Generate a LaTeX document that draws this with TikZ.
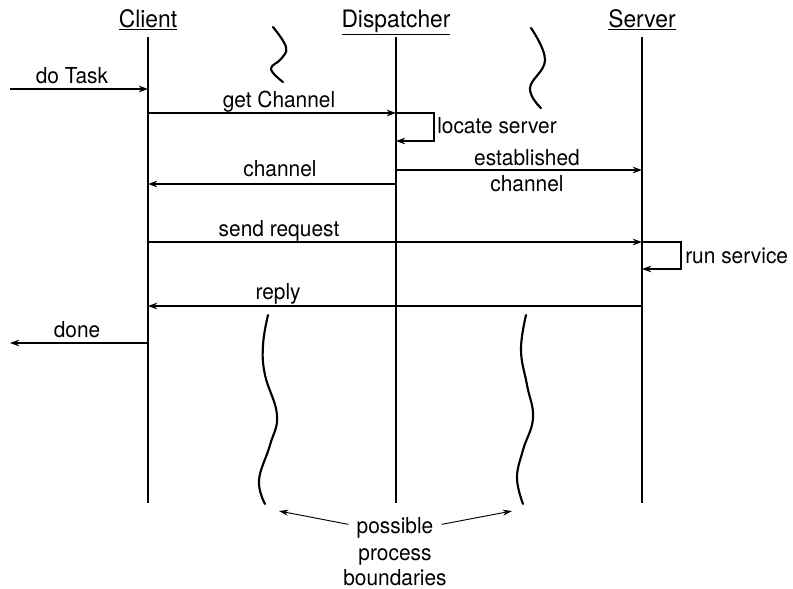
\documentclass[tikz,border=0pt]{standalone}
\usepackage{fontspec}
\setmainfont[FakeStretch=0.95]{TeX Gyre Heros}
\usetikzlibrary{arrows.meta}
\begin{document}
\begin{tikzpicture}[x=0.75pt,y=-0.75pt,
  every node/.style={inner sep=0pt,font=\fontsize{16.5pt}{19pt}\selectfont},
  head/.style={anchor=base,font=\fontsize{18pt}{21pt}\selectfont},
  lifeline/.style={line width=0.9pt},
  msg/.style={line width=0.9pt,-{Stealth[length=7pt,width=5pt]}},
  squiggle/.style={line width=1.6pt,line cap=round},
  pointer/.style={line width=0.7pt,-{Stealth[length=7pt,width=4.5pt]}},
  lbl/.style={anchor=base}]
\useasboundingbox (0,0) rectangle (793,589);

% participants
\node[head] (client) at (148,27) {\underline{Client}};
\node[head] (disp)   at (396,27) {\underline{Dispatcher}};
\node[head] (server) at (642,27) {\underline{Server}};

% lifelines
\coordinate (ct) at (148,37);  \coordinate (cb) at (148,503);
\coordinate (dt) at (396,37);  \coordinate (db) at (396,503);
\coordinate (st) at (642,37);  \coordinate (sb) at (642,503);
\draw[lifeline] (ct) -- (cb);
\draw[lifeline] (dt) -- (db);
\draw[lifeline] (st) -- (sb);

% message end points
\coordinate (in)  at (10,89);   \coordinate (c1) at (148,89);
\coordinate (c2)  at (148,113); \coordinate (d2) at (396,113);
\coordinate (d3)  at (396,141);
\coordinate (d4)  at (396,170); \coordinate (s4) at (642,170);
\coordinate (d5)  at (396,184); \coordinate (c5) at (148,184);
\coordinate (c6)  at (148,242); \coordinate (s6) at (642,242);
\coordinate (s7)  at (642,269);
\coordinate (s8)  at (642,306); \coordinate (c8) at (148,306);
\coordinate (c9)  at (148,343); \coordinate (out) at (10,343);

% messages
\draw[msg] (in) -- (c1);
\node[lbl] (tdo) at (72,83) {do Task};

\draw[msg] (c2) -- (d2);
\node[lbl] (tget) at (279,107) {get Channel};

\draw[msg] (d2) -- ++(38,0) |- (d3);
\node[anchor=base west] (tloc) at (437,133) {locate server};

\draw[msg] (d4) -- (s4);
\node[lbl] (test) at (527,165) {established};
\node[lbl] (tch2) at (527,191) {channel};

\draw[msg] (d5) -- (c5);
\node[lbl] (tch) at (280,176) {channel};

\draw[msg] (c6) -- (s6);
\node[lbl] (tsend) at (279,236) {send request};

\draw[msg] (s6) -- ++(39,0) |- (s7);
\node[anchor=base west] (trun) at (685,263) {run service};

\draw[msg] (s8) -- (c8);
\node[lbl] (treply) at (278,299) {reply};

\draw[msg] (c9) -- (out);
\node[lbl] (tdone) at (77,337) {done};

% process boundaries
\draw[squiggle] plot[smooth,tension=0.7] coordinates
  {(273,27) (286,47) (281,59) (271,69) (283,82)};
\draw[squiggle] plot[smooth,tension=0.7] coordinates
  {(531,28) (545,60) (530,88) (541,108)};
\draw[squiggle] plot[smooth,tension=0.7] coordinates
  {(268,315) (263,345) (265,375) (277,415) (270,445) (259,480) (265,504)};
\draw[squiggle] plot[smooth,tension=0.7] coordinates
  {(526,315) (521,350) (527,385) (533,418) (523,450) (517,478) (523,504)};

\node[lbl] (tposs) at (395,533) {possible};
\node[lbl] (tproc) at (395,560) {process};
\node[lbl] (tbound) at (395,585) {boundaries};
\coordinate (bl) at (279,511);
\coordinate (br) at (512,511);
\draw[pointer] (tposs.west) ++(-8,-3) -- (bl);
\draw[pointer] (tposs.east) ++(8,-3) -- (br);
\end{tikzpicture}
\end{document}
